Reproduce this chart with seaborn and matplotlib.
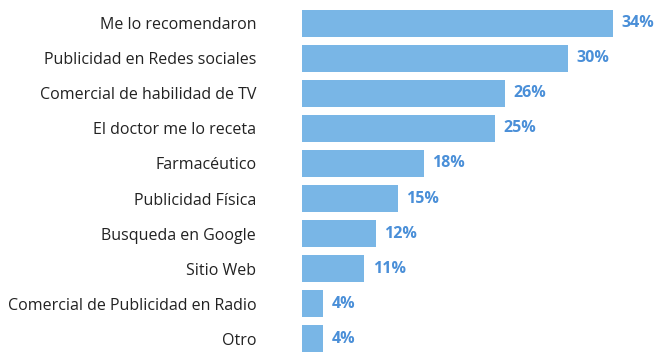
import matplotlib
matplotlib.use("Agg")
import matplotlib.pyplot as plt
import pandas as pd
import seaborn as sns

categories = [
    "Me lo recomendaron",
    "Publicidad en Redes sociales",
    "Comercial de habilidad de TV",
    "El doctor me lo receta",
    "Farmacéutico",
    "Publicidad Física",
    "Busqueda en Google",
    "Sitio Web",
    "Comercial de Publicidad en Radio",
    "Otro",
]
# bar lengths as drawn in the picture (same scale as the 34% bar)
bar_lengths = [34.0, 29.1, 22.2, 21.1, 13.3, 10.5, 8.1, 6.8, 2.3, 2.3]
value_labels = ["34%", "30%", "26%", "25%", "18%", "15%", "12%", "11%", "4%", "4%"]

bar_color = "#79b6e6"
label_color = "#4a8fd8"

sns.set_theme(style="white")
plt.rcParams["font.family"] = ["Open Sans", "DejaVu Sans"]

df = pd.DataFrame({"categoria": categories, "valor": bar_lengths})

fig = plt.figure(figsize=(6.64, 3.62), dpi=100)
ax = fig.add_axes([302 / 664, 0, 362 / 664, 1])

sns.barplot(
    data=df,
    x="valor",
    y="categoria",
    color=bar_color,
    saturation=1,
    width=0.78,
    linewidth=0,
    ax=ax,
)

for i, (v, txt) in enumerate(zip(bar_lengths, value_labels)):
    ax.annotate(
        txt,
        xy=(v, i),
        xytext=(6, 0),
        textcoords="offset points",
        va="center",
        ha="left",
        fontsize=11.5,
        fontweight="bold",
        color=label_color,
    )

ax.set_xlim(0, 362 / (311 / 34))
ax.set_ylim(9.671, -0.671)
ax.set_xlabel("")
ax.set_ylabel("")
ax.set_xticks([])
ax.tick_params(axis="y", length=0, pad=33, labelsize=11.5, labelcolor="#222222")
sns.despine(ax=ax, left=True, bottom=True)

fig.savefig("out.png", dpi=100)
